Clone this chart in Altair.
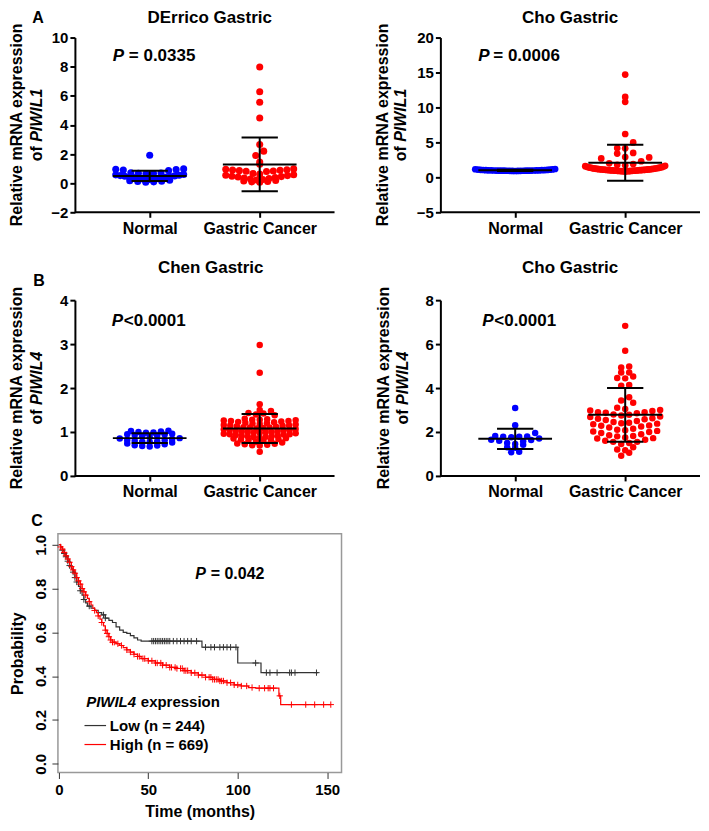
import math
import altair as alt
import pandas as pd

FONT = "Liberation Sans"

# ---------------- data ----------------
derrico_normal = [1.92, 0.98, 0.95, 0.93, 0.90, 0.86, 0.72, 0.70, 0.68, 0.66, 0.64, 0.60,
                  0.57, 0.54, 0.52, 0.50, 0.47, 0.45, 0.42, 0.40, 0.38, 0.35, 0.33, 0.30,
                  0.28, 0.25, 0.22, 0.20, 0.17, 0.14, 0.12, 0.09, 0.06]
derrico_cancer = [7.98, 6.28, 5.56, 4.47, 2.65, 2.20, 1.90, 1.45, 1.30, 0.98, 0.95, 0.92,
                  0.90, 0.88, 0.86, 0.84, 0.82, 0.80, 0.66, 0.62, 0.58, 0.55, 0.52, 0.48,
                  0.45, 0.42, 0.38, 0.35, 0.32, 0.28, 0.25, 0.22, 0.18, 0.15, 0.12, 0.09, 0.06]
derrico_mean = [0.50, 1.29]
derrico_sd = [0.35, 1.85]

cho1_normal = [1.19, 1.16, 1.13, 1.11, 1.09, 1.07, 1.06, 1.05, 1.04, 1.03, 1.02, 1.01,
               1.00, 1.00, 0.99, 0.98, 0.98, 0.97, 0.97, 0.96, 0.96, 0.95, 0.95, 0.95,
               0.94, 0.94, 0.93, 0.93, 0.92, 0.92, 0.91]
cho1_cancer = [14.7, 11.5, 10.8, 6.2, 5.0, 4.2, 4.15, 3.5, 3.4, 2.9, 2.85, 2.7, 2.3, 2.0,
               1.9, 1.8, 1.72, 1.65, 1.6, 1.55, 1.5, 1.46, 1.43, 1.4, 1.38, 1.35, 1.33,
               1.3, 1.28, 1.26, 1.24, 1.22, 1.2, 1.18, 1.17, 1.15, 1.14, 1.13, 1.12, 1.1,
               1.09, 1.08, 1.07, 1.06, 1.05, 1.04, 1.03, 1.02, 1.01, 1.0, 0.99, 0.98,
               0.97, 0.96, 0.95, 0.94, 0.93, 0.92, 0.91, 0.9, 0.89, 0.88, 0.87, 0.86, 0.85]
cho1_mean = [1.0, 2.1]
cho1_sd = [0.1, 2.57]

chen_normal = [1.03, 1.02, 1.01, 1.00, 0.99, 0.98, 0.96, 0.95, 0.94, 0.93, 0.92, 0.90,
               0.88, 0.86, 0.85, 0.84, 0.82, 0.81, 0.80, 0.79, 0.78, 0.77, 0.76, 0.74,
               0.72, 0.70, 0.69, 0.68, 0.67]
chen_cancer = [2.98, 2.35, 1.63, 1.50, 1.48, 1.43, 1.42, 1.40, 1.38,
               1.30, 1.29, 1.28, 1.28, 1.27, 1.26, 1.25, 1.25, 1.24, 1.23, 1.22, 1.21, 1.20,
               1.19, 1.18, 1.17, 1.16, 1.15, 1.15, 1.14, 1.13, 1.12, 1.11, 1.10, 1.10,
               1.09, 1.08, 1.07, 1.06, 1.05, 1.05, 1.04, 1.03, 1.02, 1.01, 1.00, 1.00, 1.00,
               0.99, 0.98, 0.97, 0.96, 0.95, 0.95, 0.94, 0.93, 0.92, 0.91, 0.90, 0.90,
               0.89, 0.88, 0.87, 0.86, 0.85, 0.84, 0.83, 0.82, 0.81, 0.80,
               0.78, 0.76, 0.74, 0.73, 0.72, 0.71, 0.70, 0.69, 0.55]
chen_mean = [0.86, 1.08]
chen_sd = [0.11, 0.33]

cho4_normal = [3.09, 2.31, 1.95, 1.82, 1.80, 1.78, 1.78, 1.76, 1.70, 1.65, 1.63, 1.60,
               1.58, 1.50, 1.45, 1.42, 1.30, 1.28, 1.10, 1.08]
cho4_cancer = [6.83, 5.70, 4.98, 4.94, 4.71, 4.71, 4.53, 4.46, 4.44, 4.14, 4.11, 3.58, 3.43, 3.33,
               3.10, 3.05, 3.00, 2.98, 2.95, 2.90, 2.90, 2.88, 2.85, 2.80, 2.78, 2.75, 2.70,
               2.68, 2.62, 2.60, 2.58, 2.55, 2.50,
               2.45, 2.42, 2.40, 2.38, 2.35, 2.30, 2.28, 2.25, 2.20, 2.15, 2.10, 2.08, 2.05,
               2.02, 2.00,
               1.95, 1.90, 1.85, 1.82, 1.80, 1.75, 1.72, 1.70, 1.65, 1.60, 1.55, 1.55, 1.50, 1.45,
               1.30, 1.20, 1.17, 1.05, 0.92]
cho4_mean = [1.69, 2.78]
cho4_sd = [0.46, 1.22]

# Kaplan-Meier (step points) and censor times
low_time = [0, 1, 2, 3, 4, 5, 6, 7, 8, 9, 10, 11, 12, 13, 14, 15, 16, 18, 20, 22, 24, 26,
            28, 30, 32, 34, 36, 38, 40, 42, 44, 46, 80, 100, 113, 145]
low_surv = [1.0, 0.99, 0.975, 0.96, 0.945, 0.925, 0.905, 0.89, 0.875, 0.85, 0.83, 0.81,
            0.79, 0.77, 0.75, 0.735, 0.72, 0.71, 0.70, 0.69, 0.68, 0.665, 0.655, 0.645,
            0.625, 0.61, 0.60, 0.595, 0.585, 0.575, 0.565, 0.56, 0.532, 0.46, 0.416, 0.416]
high_time = [0, 1, 2, 3, 4, 5, 6, 7, 8, 9, 10, 11, 12, 13, 14, 15, 16, 17, 18, 19, 20, 21,
             22, 23, 24, 25, 26, 27, 28, 29, 30, 32, 34, 36, 38, 40, 42, 44, 46, 50, 54, 58,
             62, 66, 70, 74, 78, 82, 86, 90, 94, 98, 102, 106, 110, 123, 124, 152]
high_surv = [1.0, 0.99, 0.98, 0.965, 0.95, 0.935, 0.92, 0.90, 0.885, 0.87, 0.85, 0.835,
             0.82, 0.80, 0.785, 0.77, 0.755, 0.74, 0.725, 0.71, 0.70, 0.69, 0.675, 0.66,
             0.645, 0.63, 0.61, 0.595, 0.58, 0.565, 0.555, 0.548, 0.54, 0.53, 0.52, 0.51,
             0.50, 0.49, 0.48, 0.47, 0.46, 0.45, 0.44, 0.435, 0.425, 0.415, 0.405, 0.395,
             0.385, 0.378, 0.37, 0.36, 0.355, 0.348, 0.345, 0.31, 0.27, 0.27]
low_censor = [2, 3, 4, 5, 6, 8, 9, 10, 12, 14, 17, 25, 26, 52, 53, 54, 55, 56, 57, 58, 59,
              60, 61, 62, 64, 66, 68, 70, 72, 74, 77, 82, 85, 87, 90, 92, 94, 96, 99, 110,
              116, 118, 122, 129, 130, 132, 144]
high_censor = [1, 2, 3, 4, 5, 6, 7, 8, 9, 10, 11, 12, 13, 14, 15, 17, 20, 22, 24, 26, 27,
               28, 29, 30, 31, 33, 35, 38, 40, 42, 44, 45, 47, 48, 50, 52, 54, 55, 57, 58,
               60, 62, 63, 65, 66, 68, 69, 70, 71, 72, 74, 76, 78, 80, 82, 84, 85, 86, 87,
               88, 89, 90, 91, 92, 94, 96, 98, 100, 102, 105, 108, 112, 115, 117, 118, 120,
               123.5, 130, 138, 143, 148, 152]

XDOM = [0.32, 2.68]


def swarm(vals, ypx, hbin, d, maxw, xpx):
    order = sorted(range(len(vals)), key=lambda i: vals[i])
    bins = {}
    for i in order:
        b = int(math.floor(vals[i] * ypx / hbin + 0.5))
        bins.setdefault(b, []).append(i)
    off = [0.0] * len(vals)
    for members in bins.values():
        n = len(members)
        step = d if n < 2 else min(d, maxw / (n - 1))
        slots = sorted([k - (n - 1) / 2 for k in range(n)], key=lambda z: (abs(z), z))
        for i, z in zip(members, slots):
            off[i] = z * step / xpx
    return off


def txt(s, x, y, size=16, style="normal", align="left", angle=0, color="black"):
    return alt.Chart(pd.DataFrame({"t": [s]})).mark_text(
        font=FONT, fontSize=size, fontWeight="bold", fontStyle=style, align=align,
        baseline="middle", angle=angle, color=color
    ).encode(text="t:N", x=alt.value(x), y=alt.value(y))


def dot_panel(normal, cancer, means, sds, ydom, yticks, title, gene, pval, letter,
              w, h, size, d, hbin, maxw, lay, shift=0):
    xpx = w / (XDOM[1] - XDOM[0])
    ypx = h / (ydom[1] - ydom[0])
    on = swarm(normal, ypx, hbin, d, maxw, xpx)
    oc = swarm(cancer, ypx, hbin, d, maxw, xpx)
    df = pd.DataFrame({
        "x": [1 + o for o in on] + [2 + o for o in oc],
        "y": normal + cancer,
        "grp": ["Normal"] * len(normal) + ["Gastric Cancer"] * len(cancer),
    })
    xs = alt.Scale(domain=[XDOM[0] - shift / xpx, XDOM[1]], nice=False, zero=False)
    ys = alt.Scale(domain=ydom, nice=False, zero=False)
    common = dict(grid=False, title=None, domainColor="black", domainWidth=2,
                  tickColor="black", tickWidth=2, tickSize=5, labelFont=FONT,
                  labelFontWeight="bold", labelColor="black", labelOverlap=False)
    xaxis = alt.Axis(values=[1, 2], labelExpr="datum.value == 1 ? 'Normal' : 'Gastric Cancer'",
                     labelFontSize=16, labelPadding=3, labelFlush=False, domain=False, **common)
    yaxis = alt.Axis(values=yticks, labelFontSize=15, labelPadding=2, offset=-shift, **common)
    pts = alt.Chart(df).mark_circle(size=size, opacity=1).encode(
        x=alt.X("x:Q", scale=xs, axis=xaxis),
        y=alt.Y("y:Q", scale=ys, axis=yaxis),
        color=alt.Color("grp:N", scale=alt.Scale(domain=["Normal", "Gastric Cancer"],
                                                 range=["#0000ff", "#ff0000"]), legend=None),
    )
    base = pd.DataFrame({"x0": [XDOM[0]], "x1": [XDOM[1]], "y0": [ydom[0]]})
    baseline = alt.Chart(base).mark_rule(color="black", strokeWidth=2).encode(
        x=alt.X("x0:Q", axis=xaxis), x2="x1:Q", y=alt.Y("y0:Q", axis=yaxis))
    err = pd.DataFrame({"cat": [1, 2], "m": means, "s": sds})
    be = alt.Chart(err).transform_calculate(
        lo="datum.m - datum.s", hi="datum.m + datum.s",
        xl="datum.cat - 0.335", xr="datum.cat + 0.335",
        cl="datum.cat - 0.165", cr="datum.cat + 0.165")
    rk = dict(color="black", strokeWidth=2)
    mean_r = be.mark_rule(**rk).encode(x=alt.X("xl:Q", axis=xaxis), x2="xr:Q", y=alt.Y("m:Q", axis=yaxis))
    hi_r = be.mark_rule(**rk).encode(x=alt.X("cl:Q", axis=xaxis), x2="cr:Q", y=alt.Y("hi:Q", axis=yaxis))
    lo_r = be.mark_rule(**rk).encode(x=alt.X("cl:Q", axis=xaxis), x2="cr:Q", y=alt.Y("lo:Q", axis=yaxis))
    v_r = be.mark_rule(**rk).encode(x=alt.X("cat:Q", axis=xaxis), y=alt.Y("lo:Q", axis=yaxis), y2="hi:Q")

    cy = h / 2
    s = shift
    texts = [
        txt(title, lay["title_x"] + s, lay["title_y"], size=17, align="center"),
        txt("P", lay["p_x"] + s, lay["p_y"], size=17, style="italic"),
        txt(pval, lay["p2_x"] + s, lay["p_y"], size=17),
        txt("Relative mRNA expression", lay["l1_x"] + s, cy, size=16, align="center", angle=270),
        txt("of", lay["l2_x"] + s, cy + 21.3, size=16, align="right", angle=270),
        txt(gene, lay["l2_x"] + s, cy + 16.9, size=16, style="italic", align="left", angle=270),
    ]
    if letter:
        texts.append(txt(letter, lay["letter_x"] + s, lay["letter_y"], size=16, align="center"))
    return alt.layer(pts, baseline, mean_r, hi_r, lo_r, v_r, *texts).properties(
        width=w + shift, height=h)


W = 260
HA = 175
HB = 176
SH = 17

a1 = dot_panel(derrico_normal, derrico_cancer, derrico_mean, derrico_sd, [-2, 10],
               [-2, 0, 2, 4, 6, 8, 10], "DErrico Gastric", "PIWIL1", "= 0.0335", "A",
               W, HA, 50, 8, 6, 68,
               dict(title_x=135, title_y=-20, p_x=38, p2_x=54, p_y=18, l1_x=-58, l2_x=-38,
                    letter_x=-37, letter_y=-20), shift=SH)
a2 = dot_panel(cho1_normal, cho1_cancer, cho1_mean, cho1_sd, [-5, 20],
               [-5, 0, 5, 10, 15, 20], "Cho Gastric", "PIWIL1", "= 0.0006", None,
               W, HA, 45, 8, 8, 80,
               dict(title_x=130, title_y=-20, p_x=38, p2_x=53, p_y=18, l1_x=-57, l2_x=-39))
b1 = dot_panel(chen_normal, chen_cancer, chen_mean, chen_sd, [0, 4],
               [0, 1, 2, 3, 4], "Chen Gastric", "PIWIL4", "<0.0001", "B",
               W, HB, 42, 7.5, 4.5, 72,
               dict(title_x=136, title_y=-32, p_x=37, p2_x=49, p_y=21, l1_x=-58, l2_x=-38,
                    letter_x=-36, letter_y=-19), shift=SH)
b2 = dot_panel(cho4_normal, cho4_cancer, cho4_mean, cho4_sd, [0, 8],
               [0, 2, 4, 6, 8], "Cho Gastric", "PIWIL4", "<0.0001", None,
               W, HB, 42, 8, 7, 70,
               dict(title_x=130, title_y=-32, p_x=42, p2_x=54, p_y=21, l1_x=-56, l2_x=-37))

grid = alt.concat(a1, a2, b1, b2, columns=2, spacing={"row": 88, "column": 106},
                  bounds="flush")

# ---------------- Kaplan-Meier panel ----------------
def surv_at(times, survs, t):
    s = survs[0]
    for ti, si in zip(times, survs):
        if ti <= t:
            s = si
    return s

km = pd.DataFrame({
    "time": low_time + high_time,
    "surv": low_surv + high_surv,
    "km": ["Low"] * len(low_time) + ["High"] * len(high_time),
})
cens = pd.DataFrame({
    "time": low_censor + high_censor,
    "surv": [surv_at(low_time, low_surv, t) for t in low_censor] +
            [surv_at(high_time, high_surv, t) for t in high_censor],
    "km": ["Low"] * len(low_censor) + ["High"] * len(high_censor),
})
KW, KH = 284, 239
kx = alt.Scale(domain=[-0.5, 158], nice=False, zero=False)
ky = alt.Scale(domain=[-0.04, 1.05], nice=False, zero=False)
kcol = alt.Color("km:N", scale=alt.Scale(domain=["Low", "High"], range=["#333333", "#ff0000"]),
                 legend=None)
kcommon = dict(grid=False, domain=False, tickColor="#333333", tickSize=6, tickWidth=1,
               labelFont=FONT, labelFontSize=15, labelFontWeight="bold", labelColor="black",
               titleFont=FONT, titleFontSize=16, titleFontWeight="bold", titleColor="black",
               labelOverlap=False)
kx_axis = alt.Axis(values=[0, 50, 100, 150], title="Time (months)", labelPadding=4,
                   titlePadding=6, labelFlush=False, **kcommon)
ky_axis = alt.Axis(values=[0, 0.2, 0.4, 0.6, 0.8, 1.0], format=".1f", labelAngle=270,
                   title="Probability", labelPadding=3, titlePadding=8, **kcommon)
lines = alt.Chart(km).mark_line(interpolate="step-after", strokeWidth=1.2).encode(
    x=alt.X("time:Q", scale=kx, axis=kx_axis),
    y=alt.Y("surv:Q", scale=ky, axis=ky_axis),
    color=kcol, detail="km:N",
)
marks = alt.Chart(cens).mark_point(shape="M-1,0L1,0M0,-1L0,1", size=40, filled=False,
                                   strokeWidth=1, opacity=1).encode(
    x=alt.X("time:Q", scale=kx, axis=kx_axis),
    y=alt.Y("surv:Q", scale=ky, axis=ky_axis), color=kcol)
leg_low = alt.Chart(pd.DataFrame({"a": [0]})).mark_rule(color="#333333", strokeWidth=1.2).encode(
    x=alt.value(26.6), x2=alt.value(48.2), y=alt.value(192))
leg_high = alt.Chart(pd.DataFrame({"a": [0]})).mark_rule(color="#ff0000", strokeWidth=1.2).encode(
    x=alt.value(26.6), x2=alt.value(48.2), y=alt.value(211))
ktexts = [
    txt("C", -21, -13, size=16, align="center"),
    txt("P", 137.5, 40, size=16, style="italic"),
    txt("= 0.042", 153, 40, size=16),
    txt("PIWIL4", 28.3, 168.4, size=15, style="italic"),
    txt("expression", 83, 168.4, size=15),
    txt("Low (n = 244)", 52, 192, size=15),
    txt("High (n = 669)", 52, 211, size=15),
]
kpanel = alt.layer(lines, marks, leg_low, leg_high, *ktexts).properties(
    width=KW, height=KH, view=alt.ViewBackground(stroke="#999999", strokeWidth=1.5))

chart = alt.vconcat(grid, kpanel, spacing=12).resolve_scale(
    color="independent").properties(
    padding={"left": 0, "top": 0, "right": 0, "bottom": 0}
).configure_view(stroke=None)

chart.save("out.html", embed_options={"renderer": "svg", "actions": False})
